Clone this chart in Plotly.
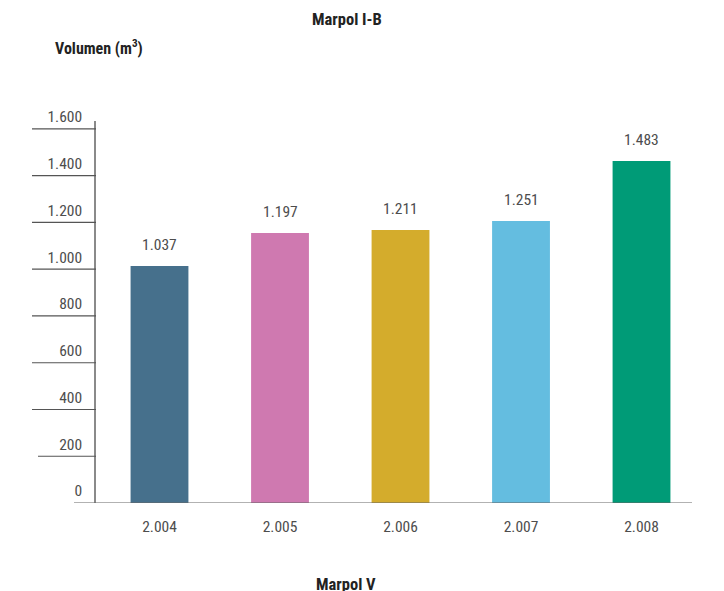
import plotly.graph_objects as go

# ---- data ----
categories = ["2.004", "2.005", "2.006", "2.007", "2.008"]
bar_heights = [1014, 1155, 1168, 1206, 1463]          # heights as drawn
value_labels = ["1.037", "1.197", "1.211", "1.251", "1.483"]
bar_colors = ["#46708c", "#cf79b0", "#d4ac2c", "#64bde0", "#009b77"]
tick_values = [0, 200, 400, 600, 800, 1000, 1200, 1400, 1600]
tick_labels = ["0", "200", "400", "600", "800", "1.000", "1.200", "1.400", "1.600"]

FONT = "Roboto Condensed, DejaVu Sans Condensed, sans-serif"
TXT = "#4d4d4d"
NUM = dict(family=FONT, size=15.5, color=TXT, weight=400)

W, H = 724, 591
ML, MR, MT, MB = 96, 32, 121, 88
PW = W - ML - MR
PH = H - MT - MB

xpos = list(range(len(categories)))

fig = go.Figure()
fig.add_trace(go.Bar(
    x=xpos, y=bar_heights, marker=dict(color=bar_colors, line=dict(width=0)),
    width=0.48, hoverinfo="skip", showlegend=False,
))

for i, (h, t) in enumerate(zip(bar_heights, value_labels)):
    fig.add_annotation(x=i, y=h, text=t, showarrow=False, yanchor="middle",
                       xanchor="center", yshift=21, font=NUM)

shapes = []
for v in tick_values:
    if v == 0:
        x0, x1, col = (74 - ML) / PW, 1, "#666666"
    elif v == 200:
        x0, x1, col = (38 - ML) / PW, 0, "#555555"
    else:
        x0, x1, col = (32 - ML) / PW, 0, "#555555"
    shapes.append(dict(type="line", xref="paper", yref="y", x0=x0, x1=x1,
                       y0=v, y1=v, line=dict(color=col, width=1.2), layer="above"))

fig.update_layout(
    width=W, height=H,
    margin=dict(l=ML, r=MR, t=MT, b=MB, pad=0, autoexpand=False),
    paper_bgcolor="white", plot_bgcolor="white",
    shapes=shapes,
    font=dict(family=FONT, size=15.5, color=TXT),
    xaxis=dict(
        range=[-0.527, 4.419], tickmode="array", tickvals=xpos, ticktext=categories,
        showgrid=False, zeroline=False, showline=False, ticks="", automargin=False,
        tickfont=NUM, ticklabelstandoff=12,
    ),
    yaxis=dict(
        range=[0, 1634], tickmode="array", tickvals=tick_values, ticktext=tick_labels,
        showgrid=False, zeroline=False, showline=True, linecolor="#8a8a8a", linewidth=1.5,
        ticks="", automargin=False, tickfont=NUM,
        ticklabelshift=-12, ticklabelstandoff=9,
    ),
)

TITLE = dict(family=FONT, size=16.5, color="#222222", weight=700)
fig.add_annotation(xref="paper", yref="paper", x=(347 - ML) / PW, y=1 + (MT - 19) / PH,
                   text="Marpol I-B", showarrow=False, xanchor="center", yanchor="middle",
                   font=TITLE)
fig.add_annotation(xref="paper", yref="paper", x=(53 - ML) / PW, y=1 + (MT - 48) / PH,
                   text="Volumen (m<sup>3</sup>)", showarrow=False, xanchor="left", yanchor="middle",
                   font=dict(TITLE, size=16))
fig.add_annotation(xref="paper", yref="paper", x=(346 - ML) / PW, y=-(584 - (H - MB)) / PH,
                   text="Marpol V", showarrow=False, xanchor="center", yanchor="middle",
                   font=TITLE)

fig.write_html("out.html", config={"displayModeBar": False},
               post_script="document.body.style.margin='0';")
